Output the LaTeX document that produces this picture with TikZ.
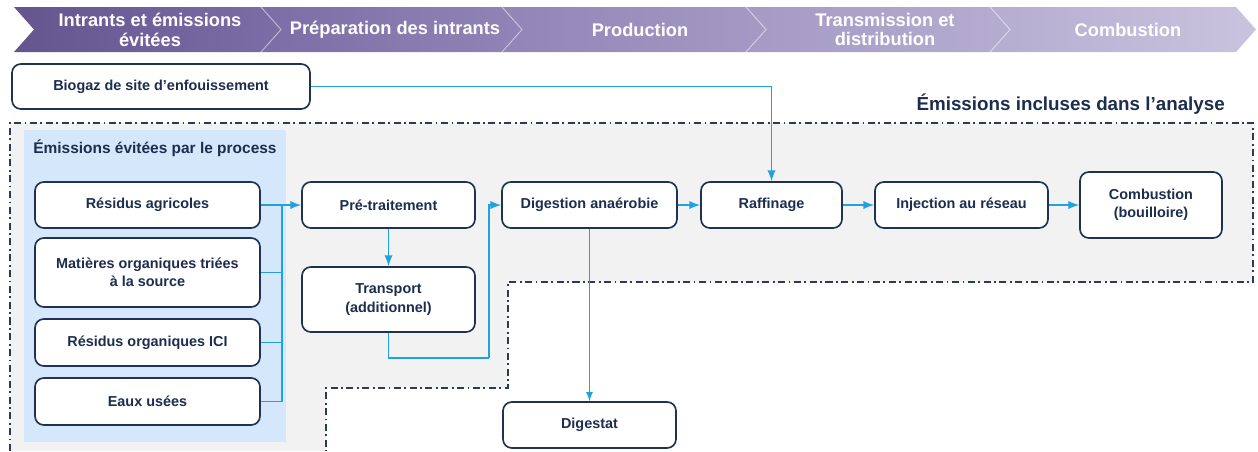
\documentclass[tikz,border=0pt]{standalone}
\usepackage{fontspec}
\setmainfont{Liberation Sans}
\usetikzlibrary{arrows}
\definecolor{navy}{HTML}{1C2D4D}
\definecolor{boxline}{HTML}{1F3251}
\definecolor{flowblue}{HTML}{1FA2DE}
\definecolor{boundline}{HTML}{2C3A55}
\definecolor{zonegray}{HTML}{F2F2F2}
\definecolor{panelblue}{HTML}{D5E7FB}
\definecolor{ph0}{HTML}{65558F}
\definecolor{ph1}{HTML}{7B6DA6}
\definecolor{ph2}{HTML}{9085B6}
\definecolor{ph3}{HTML}{A49AC4}
\definecolor{ph4}{HTML}{B5ADD0}
\definecolor{ph5}{HTML}{C9C3DE}

\begin{document}
\begin{tikzpicture}[x=0.02cm,y=-0.02cm,
  box/.style={draw=boxline,line width=0.95pt,rounded corners=5pt,fill=white,text=navy,
    font=\fontsize{8.2}{10.5}\selectfont\bfseries,align=center,inner sep=2pt},
  flow/.style={draw=flowblue,line width=1.1pt},
  bound/.style={draw=boundline,line width=1.1pt,dash pattern=on 4pt off 2pt on 1pt off 2pt},
  phase/.style={text=white,font=\fontsize{10.4}{11.3}\selectfont\bfseries,align=center},
  sep/.style={draw=white,line width=0.6pt,opacity=0.45}]
\useasboundingbox (0,0) rectangle (1258,451);

\shade[left color=ph0,right color=ph1] (14,7) -- (261,7) -- (281,29.5) -- (261,52) -- (14,52) -- (34,29.5) -- cycle;
\shade[left color=ph1,right color=ph2] (261,7) -- (502,7) -- (522,29.5) -- (502,52) -- (261,52) -- (281,29.5) -- cycle;
\shade[left color=ph2,right color=ph3] (502,7) -- (746,7) -- (766,29.5) -- (746,52) -- (502,52) -- (522,29.5) -- cycle;
\shade[left color=ph3,right color=ph4] (746,7) -- (990,7) -- (1010,29.5) -- (990,52) -- (746,52) -- (766,29.5) -- cycle;
\shade[left color=ph4,right color=ph5] (990,7) -- (1236,7) -- (1256,29.5) -- (1236,52) -- (990,52) -- (1010,29.5) -- cycle;
\draw[sep] (261,7) -- (281,29.5) -- (261,52);
\draw[sep] (502,7) -- (522,29.5) -- (502,52);
\draw[sep] (746,7) -- (766,29.5) -- (746,52);
\draw[sep] (990,7) -- (1010,29.5) -- (990,52);
\node[phase] (ph1) at (150,29.5) {Intrants et émissions\\évitées};
\node[phase] (ph2) at (395,29.5) {Préparation des intrants};
\node[phase] (ph3) at (640,29.5) {Production};
\node[phase] (ph4) at (885,29.5) {Transmission et\\distribution};
\node[phase] (ph5) at (1128,29.5) {Combustion};

\fill[zonegray] (10,451) -- (10,123) -- (1253,123) -- (1253,282) -- (508,282) -- (508,388) -- (326,388) -- (326,451) -- cycle;
\fill[panelblue] (24,130) rectangle (286,442);
\draw[bound] (10,451) -- (10,123) -- (1253,123) -- (1253,282) -- (508,282) -- (508,388) -- (326,388) -- (326,451);

\node[text=navy,font=\fontsize{10.7}{12}\selectfont\bfseries,anchor=east] (incl) at (1231,104) {Émissions incluses dans l’analyse};
\node[text=navy,font=\fontsize{8.8}{10}\selectfont\bfseries,anchor=west,inner sep=0pt] (evit) at (33,148) {Émissions évitées par le process};

\node[box,minimum width=5.96cm,minimum height=0.90cm] (biogaz) at (161,86.5) {Biogaz de site d’enfouissement};
\node[box,minimum width=4.50cm,minimum height=0.92cm] (resagri) at (147.5,205) {Résidus agricoles};
\node[box,minimum width=4.50cm,minimum height=1.38cm] (matorg) at (147.5,272.5) {Matières organiques triées\\à la source};
\node[box,minimum width=4.50cm,minimum height=0.94cm] (resici) at (147.5,342.5) {Résidus organiques ICI};
\node[box,minimum width=4.50cm,minimum height=0.94cm] (eaux) at (147.5,401.5) {Eaux usées};
\node[box,minimum width=3.46cm,minimum height=0.92cm] (pretrait) at (388.5,205) {Pré-traitement};
\node[box,minimum width=3.46cm,minimum height=1.30cm] (transport) at (388.5,299.5) {Transport\\(additionnel)};
\node[box,minimum width=3.50cm,minimum height=0.92cm] (digestion) at (589.5,205) {Digestion anaérobie};
\node[box,minimum width=2.82cm,minimum height=0.92cm] (raffinage) at (771.5,205) {Raffinage};
\node[box,minimum width=3.46cm,minimum height=0.92cm] (injection) at (961.5,205) {Injection au réseau};
\node[box,minimum width=2.84cm,minimum height=1.32cm] (combustion) at (1151,205) {Combustion\\(bouilloire)};
\node[box,minimum width=3.46cm,minimum height=0.92cm] (digestat) at (589.5,425) {Digestat};

\coordinate (collect) at (282,205);
\coordinate (tcorner) at (489,358);

\draw[flow,-latex] (biogaz.east) -| (raffinage.north);
\draw[flow,-latex] (resagri.east) -- (pretrait.west);
\draw[flow] (matorg.east) -| (collect);
\draw[flow] (resici.east) -| (collect);
\draw[flow] (eaux.east) -| (collect);
\draw[flow,-latex] (pretrait.south) -- (transport.north);
\draw[flow] (transport.south) |- (tcorner);
\draw[flow,-latex] (tcorner) |- (digestion.west);
\draw[flow,-latex] (digestion.east) -- (raffinage.west);
\draw[flow,-latex] (raffinage.east) -- (injection.west);
\draw[flow,-latex] (injection.east) -- (combustion.west);
\draw[flow,line width=0.8pt,-latex] (digestion.south) -- (digestat.north);
\end{tikzpicture}
\end{document}
